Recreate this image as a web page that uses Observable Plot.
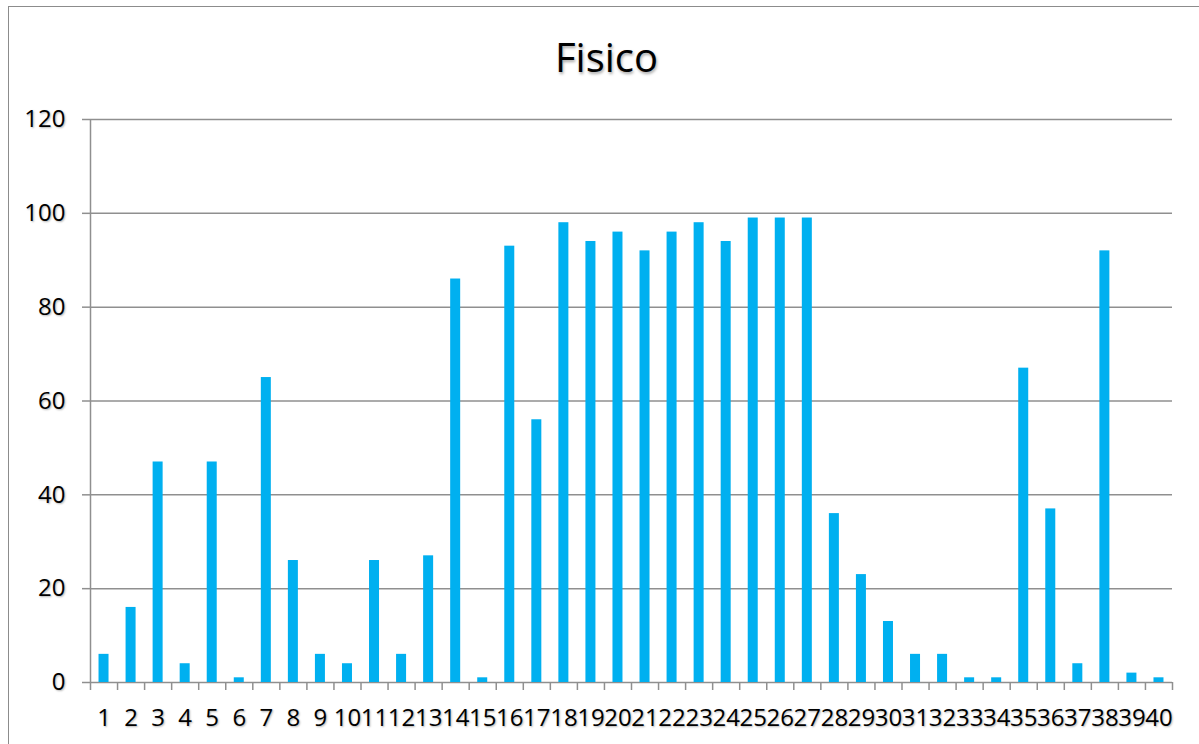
<!DOCTYPE html>
<html>
<head>
<meta charset="utf-8">
<script src="https://cdn.jsdelivr.net/npm/d3@7"></script>
<script src="https://cdn.jsdelivr.net/npm/@observablehq/plot@0.6"></script>
<style>
  html, body { margin: 0; padding: 0; background: #fff; width: 1199px; height: 744px; overflow: hidden; }
  #frame { position: absolute; left: 8px; top: 6px; width: 1300px; height: 800px; border: 1.5px solid #8c8c8c; }
  #title { position: absolute; left: 0; top: 37px; width: 1213px; text-align: center;
           font-family: "Open Sans", sans-serif; font-size: 40px; line-height: 40px; color: #000;
           text-shadow: 1px 2px 3px rgba(0,0,0,0.35); }
  #chart { position: absolute; left: 0; top: 0; }
  #chart svg text { text-shadow: 1px 1px 2px rgba(0,0,0,0.3); }
</style>
</head>
<body>
<div id="frame"></div>
<div id="chart"></div>
<div id="title">Fisico</div>
<script>
const title = "Fisico";
const categories = [1,2,3,4,5,6,7,8,9,10,11,12,13,14,15,16,17,18,19,20,21,22,23,24,25,26,27,28,29,30,31,32,33,34,35,36,37,38,39,40];
const values = [6,16,47,4,47,1,65,26,6,4,26,6,27,86,1,93,56,98,94,96,92,96,98,94,99,99,99,36,23,13,6,6,1,1,67,37,4,92,2,1];
const yTicks = [0,20,40,60,80,100,120];

const data = categories.map((c, i) => ({cat: c, value: values[i]}));
const boundaries = categories.map(c => c - 0.5).concat([categories[categories.length - 1] + 0.5]);
const halfBar = 0.185;
const gray = "#8f8f8f";

const chart = Plot.plot({
  width: 1199,
  height: 744,
  marginLeft: 90,
  marginRight: 27,
  marginTop: 119,
  marginBottom: 62,
  style: { fontFamily: "'Open Sans', sans-serif", fontSize: "24px", color: "#000", background: "transparent" },
  x: { type: "linear", domain: [boundaries[0], boundaries[boundaries.length - 1]] },
  y: { domain: [0, 120] },
  marks: [
    Plot.ruleY(yTicks, { stroke: gray, strokeWidth: 1.5 }),
    Plot.ruleX([boundaries[0]], { stroke: gray, strokeWidth: 1.5 }),
    Plot.ruleX(boundaries, { x: d => d, y1: 0, y2: 0, insetBottom: -8, stroke: gray, strokeWidth: 1.5 }),
    Plot.rectY(data, { x1: d => d.cat - halfBar, x2: d => d.cat + halfBar, y: "value", fill: "#00B0F0" }),
    Plot.axisY(yTicks, { tickSize: 8, tickPadding: 17, stroke: gray, strokeWidth: 1.5, strokeOpacity: 1, fill: "#000", fontSize: 24, label: null }),
    Plot.axisX(categories, { tickSize: 0, tickPadding: 26, fill: "#000", fontSize: 24, label: null, tickFormat: d => String(d) })
  ]
});
document.getElementById("chart").appendChild(chart);
</script>
</body>
</html>
